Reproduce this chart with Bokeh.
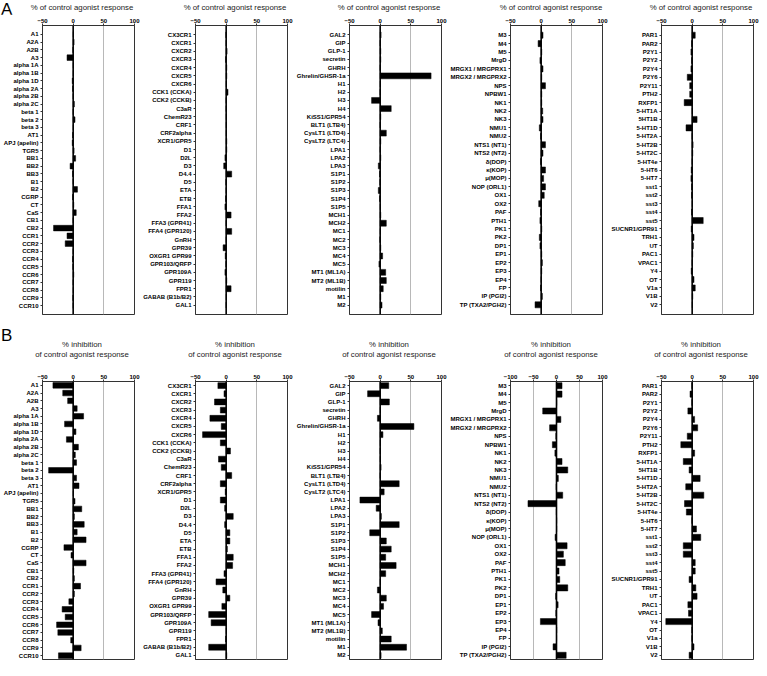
from bokeh.plotting import figure
from bokeh.models import ColumnDataSource, FactorRange, Range1d, FixedTicker, Span, Div
from bokeh.layouts import column, row
from bokeh.embed import file_html
from bokeh.resources import INLINE

# ---------------- data ----------------
cats1 = ["A1", "A2A", "A2B", "A3", "alpha 1A", "alpha 1B", "alpha 1D", "alpha 2A", "alpha 2B", "alpha 2C",
         "beta 1", "beta 2", "beta 3", "AT1", "APJ (apelin)", "TGR5", "BB1", "BB2", "BB3", "B1", "B2",
         "CGRP", "CT", "CaS", "CB1", "CB2", "CCR1", "CCR2", "CCR3", "CCR4", "CCR5", "CCR6", "CCR7",
         "CCR8", "CCR9", "CCR10"]
cats2 = ["CX3CR1", "CXCR1", "CXCR2", "CXCR3", "CXCR4", "CXCR5", "CXCR6", "CCK1 (CCKA)", "CCK2 (CCKB)",
         "C3aR", "ChemR23", "CRF1", "CRF2alpha", "XCR1/GPR5", "D1", "D2L", "D3", "D4.4", "D5", "ETA", "ETB",
         "FFA1", "FFA2", "FFA3 (GPR41)", "FFA4 (GPR120)", "GnRH", "GPR39", "OXGR1 GPR99", "GPR103/QRFP",
         "GPR109A", "GPR119", "FPR1", "GABAB (B1b/B2)", "GAL1"]
cats3 = ["GAL2", "GIP", "GLP-1", "secretin", "GHRH", "Ghrelin/GHSR-1a", "H1", "H2", "H3", "H4",
         "KiSS1/GPR54", "BLT1 (LTB4)", "CysLT1 (LTD4)", "CysLT2 (LTC4)", "LPA1", "LPA2", "LPA3", "S1P1",
         "S1P2", "S1P3", "S1P4", "S1P5", "MCH1", "MCH2", "MC1", "MC2", "MC3", "MC4", "MC5", "MT1 (ML1A)",
         "MT2 (ML1B)", "motilin", "M1", "M2"]
cats4 = ["M3", "M4", "M5", "MrgD", "MRGX1 / MRGPRX1", "MRGX2 / MRGPRX2", "NPS", "NPBW1", "NK1", "NK2",
         "NK3", "NMU1", "NMU2", "NTS1 (NT1)", "NTS2 (NT2)", "δ(DOP)", "κ(KOP)", "μ(MOP)", "NOP (ORL1)",
         "OX1", "OX2", "PAF", "PTH1", "PK1", "PK2", "DP1", "EP1", "EP2", "EP3", "EP4", "FP", "IP (PGI2)",
         "TP (TXA2/PGH2)"]
cats5 = ["PAR1", "PAR2", "P2Y1", "P2Y2", "P2Y4", "P2Y6", "P2Y11", "PTH2", "RXFP1", "5-HT1A", "5HT1B",
         "5-HT1D", "5-HT2A", "5-HT2B", "5-HT2C", "5-HT4e", "5-HT6", "5-HT7", "sst1", "sst2", "sst3", "sst4",
         "sst5", "SUCNR1/GPR91", "TRH1", "UT", "PAC1", "VPAC1", "Y4", "OT", "V1a", "V1B", "V2"]

# A: % of control agonist response
a1 = [0.5, 1.5, -0.5, -10, 0.5, 0.5, -1.5, -1, 0, 2, 0, 3, 0.5, -1, -1.5, 1.5, 4, -5, -1, 0, 7,
      -1, 1, 5, 0, -32, -10, -13, 0, -1, -0.5, 1, 0, 0.5, -0.5, 0]
a2 = [-0.5, 0, 1.5, -1, 1, 1, 0.5, 3, 0, 0, 0.5, 0.5, 0.5, 1, 1, -2, -4, 9, -0.5, 0, -1,
      -2, 8, 0, 9, 0, -5, -1.5, -0.5, -2, 1, 8, 0.5, 0]
a3 = [1.5, 0, 1, 1, 0, 83, 0.5, 0, -14, 18, 1, 0, 10, 1, 0, 1, -3, -1, -0.5, -3, -1, 0.5,
      1, 10, 0.5, -0.5, 1, 4, -2, 9, 10, 5, 1, 3]
a4 = [3, -5, 1, -2, 3, 1, 7, 1, 1, 2.5, 3, -3, -1, 7, 3, -1, 7, 4, 7, 5, -4, -1, -2, 1, -3,
      -2, 1, 2, 1, 0, -1, 2, -10]
a5 = [5, -1, -2, -1, -2, -8, -4, -4, -13, 0.5, 8, -10, 0, 1.5, 1, 0, -1.5, -2, -1, -1, 0.5, -1,
      18, -1.5, 3, 2, 1, 0, -1.5, 3, 5, 1, 0.5]

# B: % inhibition of control agonist response
b1 = [-33, -17, -9, 6.5, 17, -14, 4.5, -11, 8.5, 3.5, 5.5, -40, 5.5, 9.5, 0.5, 3, 14, 2, 18, 6.5,
      21, -15, -3.5, 21, 1, 2, 12, 2, -7, -18, -13, -27, -25, -4, 13, -24]
b2 = [-13.5, -3.5, -19, -9.5, -26.5, -8, -38.5, -9.5, 7, -12.5, -8, 9, -9.5, -1.5, -9.5, -2.5,
      11.5, -2.5, 6, 6, 2, 11.5, 10.5, -3.5, -16.5, -5.5, 6, -7, -28.5, -24.5, 0.5, -1, -28.5, 1]
b3 = [14, -20.5, 15, 0.5, -4.5, 55, 4.5, 0.5, 0.3, 0.5, 1.5, 0, 31, 6.5, -33, -6.5, 2, 31, -17,
      10, 18, 9, 26, 9, 0.5, -4.5, 10, 5.5, -14, -3.5, 3.5, 18, 43, 1.5]
b4 = [12, 12, 0.5, -30, 9.5, -15, -1.5, -9, -3.5, 12, 24.5, 4, -1, 13.5, -62, -0.5, 0.5, 0.5, -3,
      23, 15, 19, 5.5, 7, 24.5, -2, 3.5, -1.5, -35, 0.5, 0.3, -7.5, 21]
b5 = [-0.5, -3.5, -0.5, -7, 4, 9, -8, -18.5, 4, -14.5, -5, 13, -10.5, 19, -12.5, -9.5, -0.5, 7,
      14, -14.5, -14.5, 5, 5, -5, 6, 8, -7, -6, -43, -0.5, -0.5, 3, -5]

ticks_std = [-50, 0, 50, 100]
ticks_wide = [-100, -50, 0, 50, 100]
title_a = ["% of control agonist response"]
title_b = ["% inhibition", "of control agonist response"]
panel_letters = ["A", "B"]

# ---------------- styling ----------------
FONT = "Liberation Sans"
FW = 92
BR = 6
LINE = "#333333"
LEFT_BORDERS = [40, 53, 54, 62, 51]


def header(width, height, lines, centers, cx, letter=None, letter_top=0):
    half = min(cx, width - cx)
    parts = [f'<div style="position:relative;width:{width}px;height:{height}px;">']
    for t, yc in zip(lines, centers):
        parts.append(
            f'<div style="position:absolute;left:{cx - half:.1f}px;width:{2 * half:.1f}px;'
            f'top:{yc - 5}px;height:10px;line-height:10px;text-align:center;white-space:nowrap;'
            f"font-family:'{FONT}';font-size:7.8px;color:#222222;\">{t}</div>")
    if letter:
        parts.append(
            f'<div style="position:absolute;left:1px;top:{letter_top}px;line-height:20px;'
            f"font-family:'{FONT}';font-size:17px;color:black;\">{letter}</div>")
    parts.append("</div>")
    return Div(text="".join(parts), width=width, height=height, margin=0)


def panel(cats, vals, xr, ticks, grid, bl, fh, bt, bb, pad):
    src = ColumnDataSource(dict(cat=cats, val=vals))
    yr = FactorRange(factors=list(reversed(cats)), range_padding=pad,
                     range_padding_units="absolute")
    p = figure(y_range=yr, x_range=Range1d(xr[0], xr[1]), frame_width=FW, frame_height=fh,
               min_border_left=bl, min_border_right=BR, min_border_top=bt, min_border_bottom=bb,
               x_axis_location="above", toolbar_location=None, output_backend="svg")
    p.background_fill_color = "white"
    p.border_fill_color = "white"
    p.outline_line_color = LINE
    p.outline_line_width = 1

    p.hbar(y="cat", left=0, right="val", height=0.72, source=src,
           fill_color="black", line_color="black", line_width=0.5)

    p.add_layout(Span(location=0, dimension="height", line_color="black", line_width=1.6))

    p.xgrid.ticker = FixedTicker(ticks=grid)
    p.xgrid.grid_line_color = "#b8b8b8"
    p.xgrid.grid_line_width = 1
    p.ygrid.visible = False

    xa = p.xaxis[0]
    xa.ticker = FixedTicker(ticks=ticks)
    xa.major_label_text_font = FONT
    xa.major_label_text_font_size = "6px"
    xa.major_label_text_font_style = "bold"
    xa.major_label_text_color = "black"
    xa.major_label_standoff = 1
    xa.major_tick_out = 2
    xa.major_tick_in = 0
    xa.minor_tick_out = 0
    xa.minor_tick_in = 0
    xa.axis_line_color = LINE
    xa.major_tick_line_color = LINE

    ya = p.yaxis[0]
    ya.major_label_text_font = FONT
    ya.major_label_text_font_size = "6px"
    ya.major_label_text_font_style = "bold"
    ya.major_label_text_color = "black"
    ya.major_label_standoff = 2
    ya.major_tick_out = 2
    ya.major_tick_in = 0
    ya.axis_line_color = LINE
    ya.major_tick_line_color = LINE
    return p


# Row A geometry (px)
HA, FH_A, BT_A, BB_A = 14, 289, 11, 2
# Row B geometry (px)
HB, FH_B, BT_B, BB_B = 53, 278, 12, 1

cats_all = [cats1, cats2, cats3, cats4, cats5]
rowA = []
for i, (c, v) in enumerate(zip(cats_all, [a1, a2, a3, a4, a5])):
    bl = LEFT_BORDERS[i]
    w = bl + FW + BR
    hd = header(w, HA, title_a, [8], bl + FW / 2 - 4,
                letter=panel_letters[0] if i == 0 else None, letter_top=0)
    pl = panel(c, v, (-50, 100), ticks_std, [50], bl, FH_A, BT_A, BB_A, 0.65)
    rowA.append(column(hd, pl, spacing=0))

rowB = []
for i, (c, v) in enumerate(zip(cats_all, [b1, b2, b3, b4, b5])):
    if i == 3:
        xr, tk, gr = (-100, 100), ticks_wide, [-50, 50]
    else:
        xr, tk, gr = (-50, 100), ticks_std, [50]
    bl = LEFT_BORDERS[i]
    w = bl + FW + BR
    hd = header(w, HB, title_b, [29, 39], bl + FW / 2 - 4,
                letter=panel_letters[1] if i == 0 else None, letter_top=10)
    pl = panel(c, v, xr, tk, gr, bl, FH_B, BT_B, BB_B, 0)
    rowB.append(column(hd, pl, spacing=0))

layout = column(row(*rowA, spacing=0), row(*rowB, spacing=0), spacing=0)

open("out.html", "w").write(file_html(layout, INLINE))
